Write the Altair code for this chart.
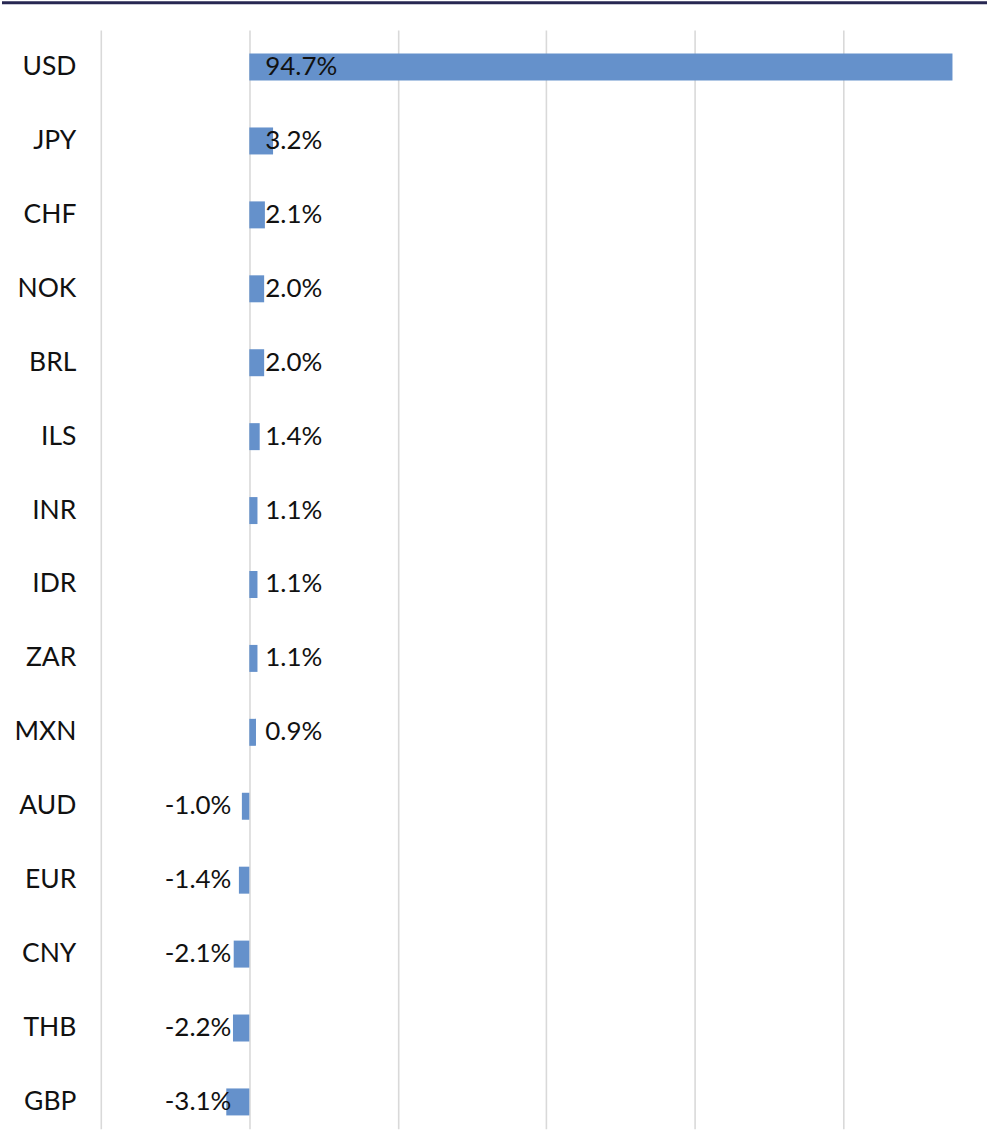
import altair as alt
import pandas as pd

currencies = ["USD", "JPY", "CHF", "NOK", "BRL", "ILS", "INR", "IDR", "ZAR", "MXN",
              "AUD", "EUR", "CNY", "THB", "GBP"]
values = [94.7, 3.2, 2.1, 2.0, 2.0, 1.4, 1.1, 1.1, 1.1, 0.9,
          -1.0, -1.4, -2.1, -2.2, -3.1]
grid_values = [-20, 0, 20, 40, 60, 80]

df = pd.DataFrame({"currency": currencies, "value": values})

W, H = 888, 1101
FONT = "Lato"
x_scale = alt.Scale(domain=[-20, 99.35], nice=False)
y_scale = alt.Scale(domain=currencies, paddingInner=0.635, paddingOuter=0.2496, align=0.636)

base = alt.Chart(df)

bars = base.mark_bar(color="#6591CB").encode(
    x=alt.X("value:Q", scale=x_scale,
            axis=alt.Axis(values=grid_values, labels=False, ticks=False, domain=False,
                          grid=True, gridColor="#D9D9D9", gridWidth=1.6, title=None)),
    x2=alt.datum(0),
    y=alt.Y("currency:N", sort=currencies, scale=y_scale,
            axis=alt.Axis(title=None, ticks=False, domain=False, labelFont=FONT,
                          labelFontSize=26.5, labelColor="#111111", labelPadding=25, grid=False)),
)

labelled = base.transform_calculate(
    label="replace(format(datum.value, '.1f'), '\u2212', '-') + '%'"
)

pos_labels = labelled.transform_filter("datum.value >= 0").mark_text(
    align="left", baseline="middle", dx=16, font=FONT, fontSize=26, color="#111111"
).encode(x=alt.datum(0), y=alt.Y("currency:N", sort=currencies), text="label:N")

neg_labels = labelled.transform_filter("datum.value < 0").mark_text(
    align="right", baseline="middle", dx=-18, font=FONT, fontSize=26, color="#111111"
).encode(x=alt.datum(0), y=alt.Y("currency:N", sort=currencies), text="label:N")

top_line = alt.Chart(pd.DataFrame({"a": [0]})).mark_rule(
    color="#272752", strokeWidth=3, strokeCap="butt"
).encode(x=alt.value(-99), x2=alt.value(W), y=alt.value(-27.5))

chart = alt.layer(bars, pos_labels, neg_labels, top_line).properties(
    width=W, height=H, padding=0, background="white"
).configure_view(stroke=None)

chart.save("out.html", embed_options={"renderer": "svg", "actions": False})
